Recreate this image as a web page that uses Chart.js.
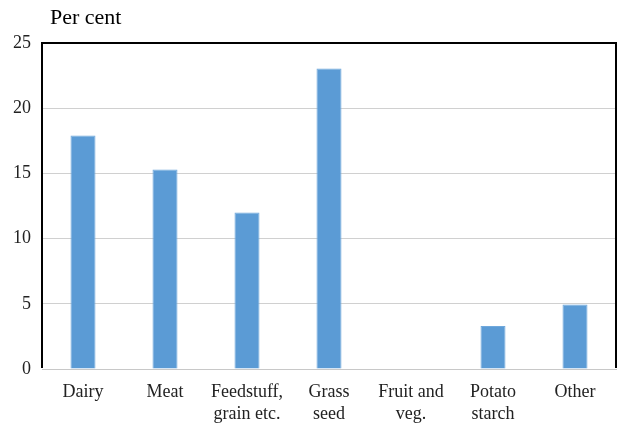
<!DOCTYPE html>
<html>
<head>
<meta charset="utf-8">
<script src="https://cdn.jsdelivr.net/npm/chart.js@4.4.1/dist/chart.umd.min.js"></script>
<style>
  html, body { margin: 0; padding: 0; background: #fff; }
  #wrap { width: 624px; height: 431px; }
</style>
</head>
<body>
<div id="wrap"><canvas id="chart"></canvas></div>
<script>
(() => {
    const categories = [
        ['Dairy'],
        ['Meat'],
        ['Feedstuff,', 'grain etc.'],
        ['Grass', 'seed'],
        ['Fruit and', 'veg.'],
        ['Potato', 'starch'],
        ['Other']
    ];
    const shares = [17.9, 15.3, 12.0, 23.05, 0, 3.3, 4.95];
    const yTicks = [0, 5, 10, 15, 20, 25];
    const unitLabel = 'Per cent';

    const frame = {
        id: 'frame',
        afterDraw: chart => {
            const { ctx, chartArea: a } = chart;
            ctx.save();
            ctx.strokeStyle = '#000';
            ctx.lineWidth = 2;
            ctx.beginPath();
            ctx.moveTo(a.left, a.bottom - 1);
            ctx.lineTo(a.left, a.top);
            ctx.lineTo(a.right, a.top);
            ctx.lineTo(a.right, a.bottom - 1);
            ctx.stroke();

            ctx.fillStyle = '#000';
            ctx.font = '22px "Liberation Serif"';
            ctx.textBaseline = 'middle';
            ctx.textAlign = 'left';
            ctx.fillText(unitLabel, a.left + 8, 18);
            ctx.restore();
        }
    };

    const ctx = document.getElementById('chart').getContext('2d');
    new Chart(ctx, {
        type: 'bar',
        data: {
            labels: categories,
            datasets: [{
                data: shares,
                backgroundColor: '#5b9bd5',
                borderColor: '#6fa8dc',
                borderWidth: 1,
                categoryPercentage: 1,
                barPercentage: 0.305
            }]
        },
        options: {
            responsive: true,
            maintainAspectRatio: false,
            animation: false,
            layout: { padding: { top: 43, left: 2, right: 8, bottom: -6 } },
            plugins: {
                legend: { display: false },
                tooltip: { enabled: false }
            },
            scales: {
                x: {
                    grid: { display: false, drawTicks: false },
                    border: { display: true, color: '#c8c8c8', width: 1 },
                    ticks: {
                        color: '#222',
                        padding: 12,
                        maxRotation: 0,
                        autoSkip: false,
                        font: { family: 'Liberation Serif', size: 18, lineHeight: 1.22 }
                    }
                },
                y: {
                    min: 0,
                    max: 25,
                    afterBuildTicks: axis => { axis.ticks = yTicks.map(v => ({ value: v })); },
                    grid: { color: '#d0d0d0', lineWidth: 1, drawTicks: false },
                    border: { display: false },
                    ticks: {
                        color: '#222',
                        padding: 11,
                        font: { family: 'Liberation Serif', size: 18 }
                    }
                }
            }
        },
        plugins: [frame]
    });
})();
</script>
</body>
</html>
